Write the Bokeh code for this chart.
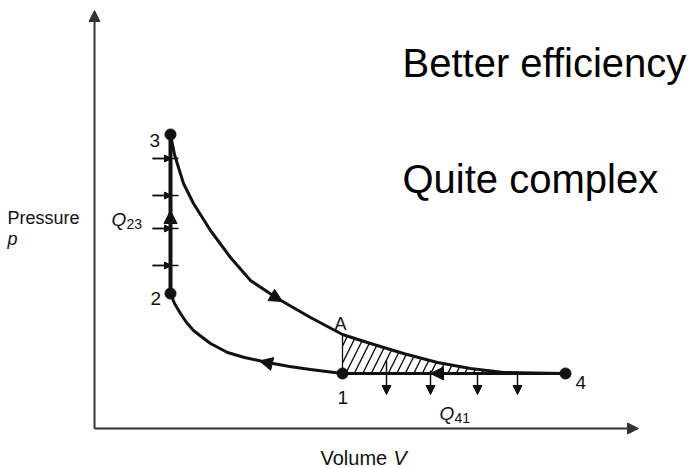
from bokeh.plotting import figure
from bokeh.models import Range1d, Arrow, NormalHead
from bokeh.core.properties import value
from bokeh.embed import file_html
from bokeh.resources import INLINE

# ---- data (V, p in diagram units, origin at axis corner) ----
V_upper = [76, 78, 80, 84, 89, 99, 116, 136, 156, 183, 216, 248, 276, 309, 343, 376, 409, 440, 471]
p_upper = [294, 284, 274, 261, 245, 225, 198, 171, 148, 130, 111, 94, 85, 75, 66, 60, 56, 55.5, 55]
V_lower = [76, 80, 86, 92, 99, 108, 116, 133, 150, 173, 195, 216, 248]
p_lower = [135, 125, 115, 106, 98, 91, 85, 76, 71, 66, 62, 59, 55]
state_names = ["1", "2", "3", "4"]
V_states = [248, 76, 76, 471]
p_states = [55, 135, 294, 55]
V_A, p_A = 248, 94
p_heat_in = [270, 233, 200, 163]
V_heat_out = [292, 336, 383, 423]
p_heat_out_top = [68, 58, 55, 55]
V_axis_max, p_axis_max = 544, 418

INK = "#111111"
FONT = "Liberation Sans"

p = figure(width=700, height=468, x_range=Range1d(-94, 606), y_range=Range1d(-40, 428),
           output_backend="svg", toolbar_location=None, min_border=0)
p.axis.visible = False
p.grid.visible = False
p.outline_line_color = None
p.background_fill_color = "white"

# axes as arrows
for xe, ye in [(0, p_axis_max), (V_axis_max, 0)]:
    p.add_layout(Arrow(end=NormalHead(size=11, fill_color="#333333", line_color="#333333"),
                       x_start=0, y_start=0, x_end=xe, y_end=ye,
                       line_color="#333333", line_width=2))

# hatched area between A-curve and the constant-pressure line
hx = [v for v in V_upper if V_A <= v <= 409]
hy = [pp for v, pp in zip(V_upper, p_upper) if V_A <= v <= 409]
hx = hx + [420, V_A]
hy = hy + [p_states[0], p_states[0]]
p.patch(hx, hy, fill_alpha=0, hatch_pattern="/", hatch_color=INK, hatch_weight=1.4,
        hatch_scale=17, line_color=INK, line_width=1.3)

# cycle lines
p.line(V_upper, p_upper, line_color=INK, line_width=3, line_join="round")
p.line(V_lower, p_lower, line_color=INK, line_width=3, line_join="round")
p.line([V_states[0], V_states[3]], [p_states[0], p_states[3]], line_color=INK, line_width=3)
p.line([V_states[1], V_states[2]], [p_states[1], p_states[2]], line_color=INK, line_width=4)

# state points
p.scatter(V_states, p_states, size=11, color=INK)

# heat-in ticks on 2-3
x_v = V_states[1]
for pp in p_heat_in:
    p.segment(x_v - 18, pp, x_v + 8, pp, line_color=INK, line_width=1.5)
    p.add_layout(Arrow(end=NormalHead(size=7, fill_color=INK, line_color=INK),
                       x_start=x_v - 18, y_start=pp, x_end=x_v + 1, y_end=pp,
                       line_color=INK, line_width=1.5))

# heat-out arrows below 4-1
for v, top in zip(V_heat_out, p_heat_out_top):
    p.add_layout(Arrow(end=NormalHead(size=9, fill_color=INK, line_color=INK),
                       x_start=v, y_start=top, x_end=v, y_end=34,
                       line_color=INK, line_width=1.5))

# direction arrows along the cycle
dir_arrows = [
    (x_v, 200, x_v, 218),      # 2 -> 3 upward
    (176, 134, 188, 127),      # 3 -> 4 expansion
    (180, 64, 165, 67.5),      # 1 -> 2 compression (leftwards)
    (352, 55, 336, 55),        # 4 -> 1 leftwards
]
for xs, ys, xe, ye in dir_arrows:
    p.add_layout(Arrow(end=NormalHead(size=13, fill_color=INK, line_color=INK),
                       x_start=xs, y_start=ys, x_end=xe, y_end=ye, line_alpha=0))

# labels
def txt(x, y, s, size, style="normal", color=INK):
    p.text([x], [y], text=[s], text_font=value(FONT), text_font_size=f"{size}px",
           text_font_style=style, text_color=color, text_baseline="alphabetic", text_align="left")

txt(55, 288, state_names[2], 19)
txt(56, 130, state_names[1], 19)
txt(243, 31, state_names[0], 19)
txt(481, 46, state_names[3], 19)
txt(240, 105, "A", 18)
txt(17, 209, "Q", 19, "italic")
txt(32, 205, "23", 14)
txt(345, 15, "Q", 19, "italic")
txt(360, 11, "41", 14)
txt(-87, 211, "Pressure", 18)
txt(-87, 190, "p", 18, "italic")
txt(226, -29, "Volume", 20)
txt(299, -29, "V", 20, "italic")
txt(308, 366, "Better efficiency", 40, color="black")
txt(308, 250, "Quite complex", 40, color="black")

open("out.html", "w").write(file_html(p, INLINE))
